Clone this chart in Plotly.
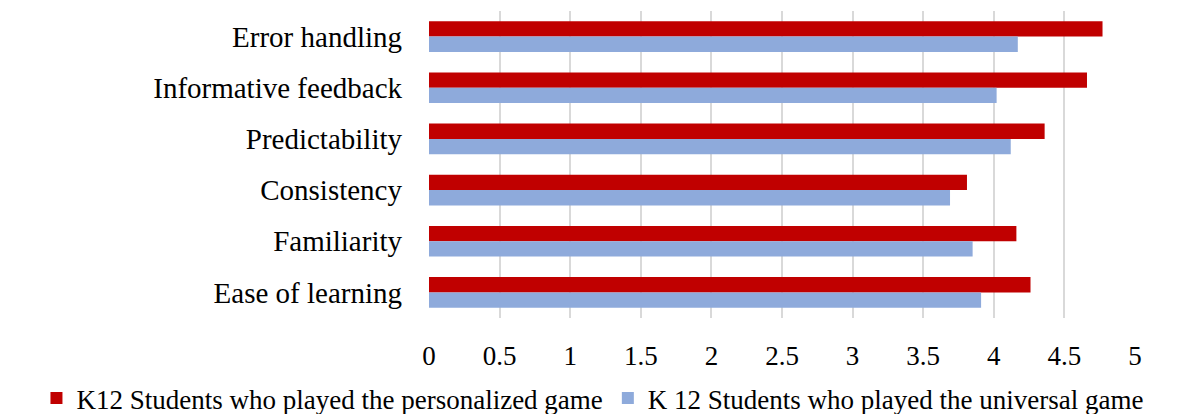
import plotly.graph_objects as go

# Usability criteria, listed top to bottom
categories = ["Error handling", "Informative feedback", "Predictability",
              "Consistency", "Familiarity", "Ease of learning"]

personalized = [4.77, 4.66, 4.36, 3.81, 4.16, 4.26]
universal = [4.17, 4.02, 4.12, 3.69, 3.85, 3.91]

series_names = ["K12 Students who played the personalized game",
                "K 12 Students who played the universal game"]

x_ticks = [0, 0.5, 1, 1.5, 2, 2.5, 3, 3.5, 4, 4.5, 5]
x_tick_text = ["0", "0.5", "1", "1.5", "2", "2.5", "3", "3.5", "4", "4.5", "5"]

FONT = "Liberation Serif, Times New Roman, serif"

fig = go.Figure()
fig.add_trace(go.Bar(y=categories, x=personalized, orientation="h",
                     name=series_names[0], marker_color="#c00000",
                     marker_line_width=0))
fig.add_trace(go.Bar(y=categories, x=universal, orientation="h",
                     name=series_names[1], marker_color="#8eaadb",
                     marker_line_width=0))

fig.update_layout(
    width=1198, height=414,
    margin=dict(l=429, r=63, t=11, b=96, autoexpand=False),
    paper_bgcolor="white", plot_bgcolor="white",
    barmode="group", bargap=0.4, bargroupgap=0,
    font=dict(family=FONT, size=27, color="#000000"),
    showlegend=True,
    # legend sits left of and below the plot area so it may span the page
    legend=dict(orientation="h", x=-0.556, xanchor="left",
                y=-0.262, yanchor="middle",
                font=dict(family=FONT, size=27, color="#000000"),
                itemwidth=30, tracegroupgap=0,
                bgcolor="rgba(0,0,0,0)", borderwidth=0),
)

fig.update_xaxes(range=[0, 5], tickvals=x_ticks, ticktext=x_tick_text,
                 showgrid=True, gridcolor="#d9d9d9", gridwidth=2,
                 zeroline=False, showline=False, ticks="",
                 ticklabelstandoff=19,
                 tickfont=dict(family=FONT, size=27, color="#000000"))
fig.update_yaxes(autorange="reversed", showgrid=False, showline=False,
                 ticks="", ticklabelstandoff=26,
                 tickfont=dict(family=FONT, size=29, color="#000000"))

fig.write_html("out.html")
